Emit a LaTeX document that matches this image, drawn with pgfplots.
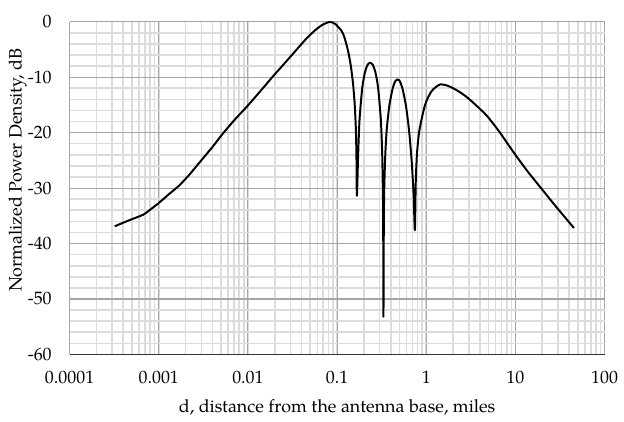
\documentclass[border=0pt]{standalone}
\usepackage{fontspec}
\setmainfont{TeX Gyre Pagella}
\usepackage{pgfplots}
\pgfplotsset{compat=1.18}
\definecolor{majgrid}{HTML}{A6A6A6}
\definecolor{mingrid}{HTML}{DCDCDC}

\begin{document}
\begin{tikzpicture}
\begin{axis}[
  name=ax,
  width=299pt, height=186pt, scale only axis,
  xmode=log,
  xmin=1e-4, xmax=100, ymin=-60, ymax=0,
  xtick={1e-4,1e-3,0.01,0.1,1,10,100},
  xticklabels={0.0001,0.001,0.01,0.1,1,10,100},
  ytick={-60,-50,-40,-30,-20,-10,0},
  yticklabels={-60,-50,-40,-30,-20,-10,0},
  minor y tick num=4,
  grid=both,
  major grid style={majgrid, line width=0.6pt},
  minor grid style={mingrid, line width=0.9pt},
  tick style={draw=none},
  axis x line*=bottom, axis y line*=left,
  x axis line style={black!80, line width=0.8pt, -},
  y axis line style={draw=none},
  xticklabel style={yshift=-6pt},
  yticklabel style={xshift=-6.5pt},
  xlabel={d, distance from the antenna base, miles},
  ylabel={Normalized Power Density, dB},
  xlabel style={at={(axis description cs:0.5,-0.159)}, anchor=center},
  ylabel style={at={(axis description cs:-0.097,0.554)}, anchor=center},
]
\addplot[black, line width=1.1pt, line join=round, smooth, tension=0.4] table {
x y
0.00032 -36.9
0.00045 -35.9
0.00067 -34.8
0.0008 -33.9
0.001 -32.7
0.0013 -31.1
0.00168 -29.6
0.0022 -27.6
0.003 -25.0
0.004 -22.6
0.0051 -20.4
0.007 -17.8
0.01 -15.1
0.014 -12.4
0.019 -9.9
0.0239 -8.1
0.03 -6.3
0.0367 -4.7
0.045 -3.1
0.0562 -1.6
0.068 -0.6
0.0826 -0.05
0.095 -0.4
0.1114 -1.6
0.12 -2.7
0.1324 -5.2
0.142 -7.8
0.15 -10.8
0.157 -14.5
0.162 -19
0.1647 -24
0.1667 -31.4
0.1726 -23.5
0.1786 -17.6
0.1912 -12.0
0.2048 -9.2
0.2194 -7.8
0.2350 -7.4
0.2517 -7.8
0.2696 -9.2
0.2887 -12.0
0.3092 -17.6
0.3200 -23.5
0.3266 -31.4
0.3288 -37.4
0.331 -53.2
0.334 -37
0.338 -30
0.347 -24
0.36 -19.5
0.385 -15.2
0.42 -12.0
0.45 -10.7
0.475 -10.4
0.50 -10.6
0.54 -12.0
0.592 -15.2
0.64 -19.5
0.685 -25
0.72 -31
0.745 -37.6
0.762 -29
0.785 -24
0.825 -20.3
0.87 -18.2
0.95 -15.5
1.03 -13.9
1.15 -12.5
1.3 -11.7
1.45 -11.3
1.7 -11.5
2.0 -12.0
2.43 -12.8
3.0 -13.9
3.8 -15.4
4.8 -17.0
6.5 -19.7
8.5 -22.4
10.4 -24.4
14 -27.2
19.8 -30.2
28 -33.2
45.3 -37.2
};
\end{axis}
\path ([xshift=-38.9pt,yshift=-33.4pt]ax.south west) rectangle ([xshift=8.9pt,yshift=12.1pt]ax.north east);
\end{tikzpicture}
\end{document}
